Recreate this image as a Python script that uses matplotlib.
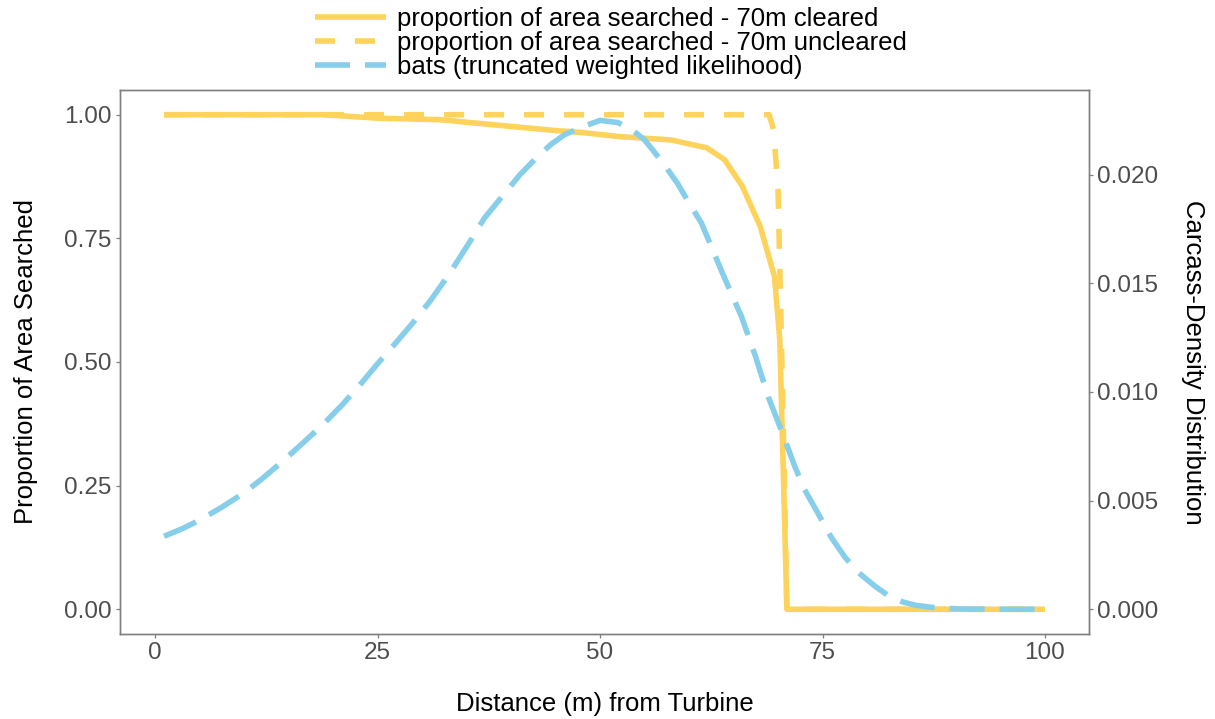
import matplotlib
matplotlib.use("Agg")
import matplotlib.pyplot as plt
from matplotlib.lines import Line2D

plt.rcParams['font.family'] = ['Liberation Sans', 'DejaVu Sans']
plt.rcParams['lines.scale_dashes'] = False

# ---- data ----
cleared_x = [1, 19, 25, 32, 39, 45, 48, 52, 58, 62, 64, 66, 68, 69.6, 70.2, 71.0, 100]
cleared_y = [1.0, 1.0, 0.993, 0.99, 0.978, 0.968, 0.964, 0.956, 0.949, 0.933, 0.909,
             0.855, 0.774, 0.673, 0.545, 0.0, 0.0]

uncleared_x = [1, 69, 69.5, 70.0, 70.5, 71.0, 100]
uncleared_y = [1.0, 1.0, 0.97, 0.85, 0.45, 0.0, 0.0]

bats_x = [1, 3, 5, 7.5, 10, 12, 14.5, 17, 19, 21, 23, 25, 27, 29, 31, 33, 35.5, 37, 39,
          41, 43, 44.5, 46, 48, 50, 52, 53.5, 55, 56, 57.5, 58.7, 60, 61.4, 62.5, 63.6,
          65, 65.9, 67.5, 68.9, 70.5, 71.9, 73, 74.5, 76, 77.5, 79, 81, 82.5, 84, 85.5,
          87.5, 89, 91, 95, 100]
bats_y = [0.00336, 0.0037, 0.0041, 0.0047, 0.00536, 0.0060, 0.00687, 0.0078, 0.00856,
          0.0094, 0.01032, 0.0113, 0.01224, 0.0132, 0.01424, 0.0154, 0.0170, 0.0180,
          0.0190, 0.0200, 0.02084, 0.0214, 0.02184, 0.0222, 0.0225, 0.0224, 0.0221,
          0.0216, 0.0211, 0.0203, 0.0196, 0.0187, 0.01777, 0.0167, 0.01562, 0.0143,
          0.01347, 0.0116, 0.00978, 0.0081, 0.00656, 0.0055, 0.00441, 0.0033, 0.00241,
          0.0017, 0.00103, 0.0006, 0.00034, 0.00018, 0.00008, 0.00004, 0.00001, 0.0, 0.0]

x_ticks = [0, 25, 50, 75, 100]
left_ticks = [0.0, 0.25, 0.5, 0.75, 1.0]
right_ticks = [0.0, 0.005, 0.010, 0.015, 0.020]
sec_factor = 0.02276  # right axis = left axis * factor

labels = ["proportion of area searched - 70m cleared",
          "proportion of area searched - 70m uncleared",
          "bats (truncated weighted likelihood)"]

YELLOW = '#FDD35B'
BLUE = '#87CEEB'
GREY_TXT = '#4D4D4D'
BORDER = '#7F7F7F'

fig = plt.figure(figsize=(12.15, 7.19), dpi=100)
ax = fig.add_axes([120/1215, 1 - 634/719, (1089-120)/1215, (634-90)/719])
ax2 = ax.twinx()

lw = 4.0
ax.plot(cleared_x, cleared_y, color=YELLOW, lw=lw, solid_capstyle='butt',
        solid_joinstyle='round')
ax.plot(uncleared_x, uncleared_y, color=YELLOW, lw=lw,
        linestyle=(0, (14.4, 14.4)), dash_capstyle='butt', dash_joinstyle='round')
ax2.plot(bats_x, bats_y, color=BLUE, lw=lw,
         linestyle=(0, (25.2, 10.8)), dash_capstyle='butt', dash_joinstyle='round')

xlim = (-3.95, 104.95)
ylim = (-0.05, 1.05)
ax.set_xlim(*xlim)
ax.set_ylim(*ylim)
ax2.set_ylim(ylim[0]*sec_factor, ylim[1]*sec_factor)

ax.set_xticks(x_ticks)
ax.set_xticklabels([str(t) for t in x_ticks])
ax.set_yticks(left_ticks)
ax.set_yticklabels([f"{t:.2f}" for t in left_ticks])
ax2.set_yticks(right_ticks)
ax2.set_yticklabels([f"{t:.3f}" for t in right_ticks])

for a in (ax, ax2):
    a.tick_params(axis='both', labelsize=17.5, labelcolor=GREY_TXT, color=BORDER,
                  length=3, width=0.9, pad=3)
    for s in a.spines.values():
        s.set_color(BORDER)
        s.set_linewidth(1.0)

ax.set_xlabel("Distance (m) from Turbine", fontsize=18.5, color='black', labelpad=20)
ax.set_ylabel("Proportion of Area Searched", fontsize=18.5, color='black', labelpad=19)
ax2.set_ylabel("Carcass-Density Distribution", fontsize=18.5, color='black',
               rotation=270, va='bottom', labelpad=16)

handles = [
    Line2D([], [], color=YELLOW, lw=lw, solid_capstyle='butt'),
    Line2D([], [], color=YELLOW, lw=lw, linestyle=(0, (14.4, 14.4)), dash_capstyle='butt'),
    Line2D([], [], color=BLUE, lw=lw, linestyle=(0, (25.2, 10.8)), dash_capstyle='butt'),
]
fig.legend(handles, labels, loc='upper center', bbox_to_anchor=(0.503, 1.015),
           frameon=False, fontsize=18.5, handlelength=2.75, handletextpad=0.45,
           labelspacing=0.0, borderpad=0.2)

fig.savefig("out.png", dpi=100, facecolor='white')
